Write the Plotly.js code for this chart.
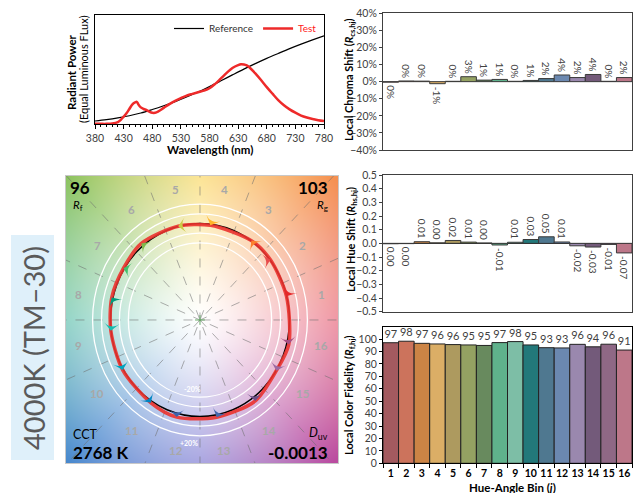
<!DOCTYPE html>
<html><head><meta charset="utf-8">
<script src="https://cdn.plot.ly/plotly-3.0.1.min.js"></script>
<style>html,body{margin:0;padding:0;background:#fff}#chart{width:638px;height:493px}</style>
</head><body><div id="chart"></div>
<script>
// ---------- DATA ----------
const testWl  = [380,390,400,410,420,425,430,435,440,445,450,453,456,460,465,470,475,480,485,490,500,510,520,530,540,550,560,570,580,590,600,610,620,630,635,640,645,650,660,670,680,690,700,710,720,730,740,750,760,770,780];
const testPow = [0.004,0.004,0.004,0.007,0.02,0.04,0.07,0.10,0.14,0.18,0.20,0.205,0.18,0.155,0.14,0.13,0.115,0.105,0.105,0.115,0.15,0.185,0.215,0.24,0.262,0.278,0.293,0.308,0.33,0.37,0.42,0.47,0.515,0.542,0.55,0.548,0.54,0.52,0.466,0.405,0.34,0.28,0.222,0.175,0.137,0.106,0.08,0.062,0.048,0.038,0.03];
const refWl   = [380,400,420,440,460,480,500,520,540,560,580,600,620,640,660,680,700,720,740,760,780];
const refPow  = [0.030,0.042,0.058,0.078,0.103,0.135,0.170,0.208,0.250,0.295,0.345,0.398,0.452,0.505,0.555,0.603,0.648,0.692,0.733,0.772,0.810];

const bins = ['1','2','3','4','5','6','7','8','9','10','11','12','13','14','15','16'];
const chromaShift = [-0.3,0.4,0.3,-1.2,0.2,2.9,0.9,1.3,0.2,0.7,1.8,3.9,2.4,4.2,0.2,2.4];   // %
const hueShift = [-0.003,-0.002,0.012,0.004,0.021,0.009,0.003,-0.012,0.008,0.028,0.048,0.010,-0.018,-0.027,-0.008,-0.070];
const fidelity = [97.1,98.3,96.6,96.1,95.6,95.3,94.9,97.2,98.0,95.3,93.1,92.9,95.8,93.8,95.9,91.2];
const refHue = [14.5,38.5,54.4,83.0,102.9,129.0,147.7,167.4,186.0,209.4,234.7,255.0,281.5,307.9,328.8,349.6]; // deg

const barColors = ['#a35a5f','#cc735c','#cc8445','#dbae66','#ad9a5f','#94a262','#688a5e','#5fb28c','#7dbea6','#22787a','#4f7890','#6b88b0','#9a88ae','#735a7a','#8f6885','#bd7789'];
const arrowColors = ['#e62828','#e74b4b','#fb812e','#ffb529','#cbca46','#7eb94c','#41c06d','#009c7c','#16bcb0','#00a4bf','#0085c3','#3b62aa','#4568ae','#6a4e85','#9d69a1','#a74f81'];
const wheelColors = [[232,105,125],[245,145,80],[250,215,95],[140,195,95],[95,192,172],[70,135,205],[125,120,210],[185,75,160]];

const Rf='96', Rg='103', CCT='2768 K', Duv='-0.0013';

// ---------- LAYOUT HELPERS ----------
const W=638,H=493;
const px=x=>x/W, py=y=>1-y/H;
const FONT='Lato, "Open Sans", sans-serif';
const TXT='#404040';
const xr5=[-1.497,1.542], yr5=[-1.482,1.492];
const sx=89.5, sy=96.5;

function makeBg(w,h){
  const c=document.createElement('canvas'); c.width=w; c.height=h;
  const ctx=c.getContext('2d'); const img=ctx.createImageData(w,h);
  for(let j=0;j<h;j++)for(let i=0;i<w;i++){
    const x=xr5[0]+(i+0.5)/w*(xr5[1]-xr5[0]);
    const y=yr5[1]-(j+0.5)/h*(yr5[1]-yr5[0]);
    let th=Math.atan2(y,x)*180/Math.PI; if(th<0)th+=360;
    const k=Math.floor(th/45)%8, f=(th-k*45)/45;
    const a=wheelColors[k], b=wheelColors[(k+1)%8];
    const r=Math.hypot(x,y), s=Math.min(1,Math.pow(r/2.1,1.2));
    const idx=(j*w+i)*4;
    for(let q=0;q<3;q++){const hh=a[q]+(b[q]-a[q])*f; img.data[idx+q]=Math.round(255+(hh-255)*s);}
    img.data[idx+3]=255;
  }
  ctx.putImageData(img,0,0); return c.toDataURL();
}

// test points in the vector graphic
const tx=[],ty=[],ang=[];
for(let i=0;i<16;i++){
  const tr=refHue[i]*Math.PI/180, tt=tr+hueShift[i], r=1+chromaShift[i]/100;
  const x=r*Math.cos(tt), y=r*Math.sin(tt);
  tx.push(x); ty.push(y);
  const dx=(x-Math.cos(tr))*sx, dy=(y-Math.sin(tr))*sy;
  ang.push(Math.atan2(dx,dy)*180/Math.PI);
}

const traces=[
  {x:refWl,y:refPow,type:'scatter',mode:'lines',name:'Reference',line:{color:'#000',width:1.2,shape:'spline'},xaxis:'x',yaxis:'y'},
  {x:testWl,y:testPow,type:'scatter',mode:'lines',name:'<span style="color:#ff2020">Test</span>',line:{color:'#ee2a2a',width:2.5,shape:'spline'},xaxis:'x',yaxis:'y'},
  {x:bins,y:chromaShift,type:'bar',xaxis:'x2',yaxis:'y2',marker:{color:barColors,line:{color:'#3a3a3a',width:1}},
   text:chromaShift.map(v=>Math.round(v)+'%'),textposition:'outside',textangle:90,constraintext:'none',cliponaxis:false,
   textfont:{size:10,color:TXT},showlegend:false},
  {x:bins,y:hueShift,type:'bar',xaxis:'x3',yaxis:'y3',marker:{color:barColors,line:{color:'#3a3a3a',width:1}},
   text:hueShift.map(v=>Math.abs(v)<0.005?'0.00':v.toFixed(2)),textposition:'outside',textangle:90,constraintext:'none',cliponaxis:false,
   textfont:{size:10,color:TXT},showlegend:false},
  {x:bins,y:fidelity,type:'bar',xaxis:'x4',yaxis:'y4',marker:{color:barColors,line:{color:'#222',width:1}},
   text:fidelity.map(v=>String(Math.round(v))),textposition:'outside',constraintext:'none',cliponaxis:false,
   textfont:{size:11,color:TXT},showlegend:false},
  {x:tx.concat([tx[0]]),y:ty.concat([ty[0]]),type:'scatter',mode:'lines',xaxis:'x5',yaxis:'y5',line:{color:'rgba(235,50,45,0.9)',width:3.5,shape:'spline',smoothing:0.8},showlegend:false,hoverinfo:'skip'},
  {x:tx,y:ty,type:'scatter',mode:'markers',xaxis:'x5',yaxis:'y5',marker:{symbol:'arrow-wide',size:11,color:arrowColors,angle:ang,line:{width:0}},showlegend:false},
  {x:[0],y:[0],type:'scatter',mode:'markers',xaxis:'x5',yaxis:'y5',marker:{symbol:'cross-thin',size:7,line:{color:'#6a6',width:1}},showlegend:false}
];

const shapes=[];
// CVG dashed radial lines
for(let k=0;k<8;k++){
  const a=k*22.5*Math.PI/180;
  shapes.push({type:'line',xref:'x5',yref:'y5',x0:-3*Math.cos(a),y0:-3*Math.sin(a),x1:3*Math.cos(a),y1:3*Math.sin(a),
    line:{color:'rgba(110,110,110,0.55)',width:1,dash:'dash'},layer:'below'});
}
[0.8,0.9,1.1,1.2].forEach(r=>shapes.push({type:'circle',xref:'x5',yref:'y5',x0:-r,x1:r,y0:-r,y1:r,line:{color:'#fff',width:1.3},layer:'below'}));
shapes.push({type:'circle',xref:'x5',yref:'y5',x0:-1,x1:1,y0:-1,y1:1,line:{color:'#000',width:1.5},layer:'below'});
// left label box
shapes.push({type:'rect',xref:'paper',yref:'paper',x0:px(11),x1:px(54),y0:py(460),y1:py(235),fillcolor:'#dff0fa',line:{width:0},layer:'below'});

const ann=[];
function A(text,x,y,o){ann.push(Object.assign({text,x:px(x),y:py(y),xref:'paper',yref:'paper',showarrow:false,xanchor:'center',yanchor:'middle',font:{family:FONT,size:11,color:'#000'}},o||{}));}
A('<b>Radiant Power</b>',71,72,{textangle:-90,font:{family:FONT,size:11.5,color:'#000'}});
A('(Equal Luminous FLux)',83,69,{textangle:-90,font:{family:FONT,size:11,color:'#000'}});
A('<b>Wavelength (nm)</b>',210,150,{font:{family:FONT,size:11.5,color:'#000'}});
A('<b>Local Chroma Shift (<i>R</i><sub>cs,hj</sub>)</b>',349,80,{textangle:-90});
A('<b>Local Hue Shift (<i>R</i><sub>hs,hj</sub>)</b>',351,240,{textangle:-90});
A('<b>Local Color Fidelity (<i>R</i><sub>f,hj</sub>)</b>',349,396,{textangle:-90});
A('<b>Hue-Angle Bin (<i>j</i>)</b>',512,487,{font:{family:FONT,size:11.5,color:'#000'}});
A('4000K (TM–30)',33,348,{textangle:-90,font:{family:FONT,size:29,color:'#5a5a5a'}});
// CVG texts
A('<b>'+Rf+'</b>',68,188,{xanchor:'left',font:{family:FONT,size:17,color:'#000'}});
A('<i>R</i><sub>f</sub>',71,205,{xanchor:'left',font:{family:FONT,size:11.5,color:'#000'}});
A('<b>'+Rg+'</b>',330,188,{xanchor:'right',font:{family:FONT,size:17,color:'#000'}});
A('<i>R</i><sub>g</sub>',330,205,{xanchor:'right',font:{family:FONT,size:11.5,color:'#000'}});
A('CCT',71,434,{xanchor:'left',font:{family:FONT,size:12.5,color:'#000'}});
A('<b>'+CCT+'</b>',71,452,{xanchor:'left',font:{family:FONT,size:17,color:'#000'}});
A('<i>D</i><sub>uv</sub>',330,433,{xanchor:'right',font:{family:FONT,size:12.5,color:'#000'}});
A('<b>'+Duv+'</b>',330,452,{xanchor:'right',font:{family:FONT,size:17,color:'#000'}});
// bin labels
bins.forEach((b,i)=>{
  const a=(11.25+22.5*i)*Math.PI/180;
  ann.push({text:'<b>'+b+'</b>',x:1.38*Math.cos(a),y:1.38*Math.sin(a),xref:'x5',yref:'y5',showarrow:false,font:{family:FONT,size:11.5,color:'#a8a8a8'}});
});
ann.push({text:'<b>-20%</b>',x:-0.08,y:-0.71,xref:'x5',yref:'y5',showarrow:false,font:{family:FONT,size:7,color:'#fff'}});
ann.push({text:'<b>+20%</b>',x:-0.12,y:-1.27,xref:'x5',yref:'y5',showarrow:false,font:{family:FONT,size:7,color:'#fff'}});

const axLine={showline:true,linecolor:'#000',linewidth:1,mirror:true,showgrid:false,zeroline:false};
const tickF={family:FONT,size:10.5,color:TXT};

const layout={
  width:W,height:H,margin:{l:0,r:0,t:0,b:0},paper_bgcolor:'#fff',plot_bgcolor:'rgba(0,0,0,0)',
  font:{family:FONT,color:TXT},showlegend:true,bargap:0,
  legend:{orientation:'h',x:px(322),xanchor:'right',y:py(14),yanchor:'top',bgcolor:'rgba(0,0,0,0)',font:{family:FONT,size:10,color:'#333'},itemwidth:30,tracegroupgap:0},
  xaxis:Object.assign({},axLine,{domain:[px(95),px(324)],anchor:'y',range:[380,780],tickvals:[380,430,480,530,580,630,680,730,780],ticks:'outside',ticklen:4,tickcolor:'#000',
    minor:{dtick:10,ticks:'outside',ticklen:2,tickcolor:'#000'},tickfont:tickF}),
  yaxis:Object.assign({},axLine,{domain:[py(124.3),py(15)],anchor:'x',range:[0,1],showticklabels:false,ticks:''}),
  xaxis2:Object.assign({},axLine,{domain:[px(383),px(632)],anchor:'y2',type:'category',showticklabels:false,ticks:'',linecolor:'#404040'}),
  yaxis2:Object.assign({},axLine,{domain:[py(150),py(13.3)],anchor:'x2',range:[-40,40],dtick:10,ticksuffix:'%',ticks:'outside',ticklen:3,tickcolor:'#404040',linecolor:'#404040',tickfont:tickF}),
  xaxis3:Object.assign({},axLine,{domain:[px(383),px(632)],anchor:'y3',type:'category',showticklabels:false,ticks:'',linecolor:'#404040'}),
  yaxis3:Object.assign({},axLine,{domain:[py(311.7),py(175)],anchor:'x3',range:[-0.5,0.5],dtick:0.1,tickformat:'.1f',ticks:'outside',ticklen:3,tickcolor:'#404040',linecolor:'#404040',tickfont:tickF,
    zeroline:true,zerolinecolor:'#000',zerolinewidth:1}),
  xaxis4:Object.assign({},axLine,{domain:[px(383),px(632)],anchor:'y4',type:'category',ticks:'outside',tickson:'boundaries',ticklen:4,tickcolor:'#000',tickangle:0,
    tickfont:{family:FONT,size:10.5,color:'#000',weight:'bold'}}),
  yaxis4:Object.assign({},axLine,{domain:[py(463.3),py(326.7)],anchor:'x4',range:[0,110],tickvals:[0,10,20,30,40,50,60,70,80,90,100],ticks:'outside',ticklen:3,tickcolor:'#000',tickfont:tickF}),
  xaxis5:{domain:[px(66),px(338)],anchor:'y5',range:xr5,showgrid:false,zeroline:false,showticklabels:false,ticks:'',showline:true,mirror:true,linecolor:'#c8c8c8',linewidth:1},
  yaxis5:{domain:[py(463),py(176)],anchor:'x5',range:yr5,showgrid:false,zeroline:false,showticklabels:false,ticks:'',showline:true,mirror:true,linecolor:'#c8c8c8',linewidth:1},
  shapes:shapes,annotations:ann,
  images:[{source:makeBg(272,287),xref:'paper',yref:'paper',x:px(66),y:py(176),sizex:px(338)-px(66),sizey:py(176)-py(463),sizing:'stretch',xanchor:'left',yanchor:'top',layer:'below'}]
};
Plotly.newPlot('chart',traces,layout,{staticPlot:true,displayModeBar:false});
</script></body></html>
